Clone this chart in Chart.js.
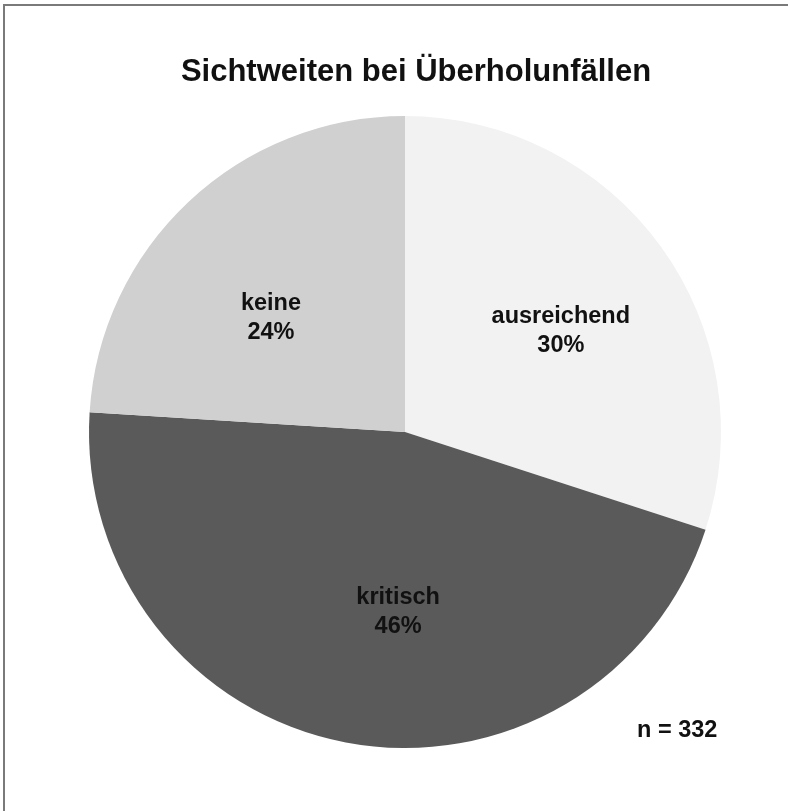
<!DOCTYPE html>
<html>
<head>
<meta charset="utf-8">
<script src="https://cdn.jsdelivr.net/npm/chart.js@4/dist/chart.umd.min.js"></script>
<style>
  html, body { margin: 0; padding: 0; background: #fff; }
  #wrap { position: relative; width: 788px; height: 811px; overflow: hidden; }
  #frame {
    position: absolute; left: 3px; top: 4px; width: 800px; height: 820px;
    border-left: 2px solid #7a7a7a; border-top: 2px solid #7a7a7a;
  }
  canvas { position: absolute; left: 0; top: 0; }
</style>
</head>
<body>
<div id="wrap">
  <canvas id="pie" width="788" height="811"></canvas>
  <div id="frame"></div>
</div>
<script>
var chartTitle = "Sichtweiten bei Überholunfällen";
var categories = ["ausreichend", "kritisch", "keine"];
var shares = [30, 46, 24];
var sampleSize = 332;

var sliceColors = ["#f2f2f2", "#5a5a5a", "#d0d0d0"];

// where each label sits inside its slice: angle shift (deg) and radius fraction
var labelShift = [3, -8.6, -6.4];
var labelRadius = [0.588, 0.567, 0.557];

var textPlugin = {
    id: "pieText",
    afterDraw: function(chart) {
        var ctx = chart.ctx;
        ctx.save();
        ctx.fillStyle = "#111";
        ctx.textAlign = "center";
        ctx.textBaseline = "middle";

        ctx.font = "bold 31px 'Liberation Sans', Arial, sans-serif";
        ctx.fillText(chartTitle, 416, 72);

        ctx.font = "bold 23.5px 'Liberation Sans', Arial, sans-serif";
        var arcs = chart.getDatasetMeta(0).data;
        arcs.forEach(function(arc, i) {
            var mid = (arc.startAngle + arc.endAngle) / 2 + labelShift[i] * Math.PI / 180;
            var r = arc.outerRadius * labelRadius[i];
            var x = arc.x + Math.cos(mid) * r;
            var y = arc.y + Math.sin(mid) * r;
            ctx.fillText(categories[i], x, y - 14);
            ctx.fillText(shares[i] + "%", x, y + 15);
        });

        ctx.textAlign = "left";
        ctx.fillText("n = " + sampleSize, 637, 731);
        ctx.restore();
    }
};

var context = document.getElementById("pie").getContext("2d");
var chart = new Chart(context, {
    type: "pie",
    data: {
        labels: categories,
        datasets: [{
            data: shares,
            backgroundColor: sliceColors,
            borderWidth: 0
        }]
    },
    options: {
        responsive: false,
        animation: false,
        layout: { padding: { left: 89, right: 67, top: 116, bottom: 63 } },
        plugins: {
            legend: { display: false },
            tooltip: { enabled: false },
            title: { display: false }
        }
    },
    plugins: [textPlugin]
});
</script>
</body>
</html>
